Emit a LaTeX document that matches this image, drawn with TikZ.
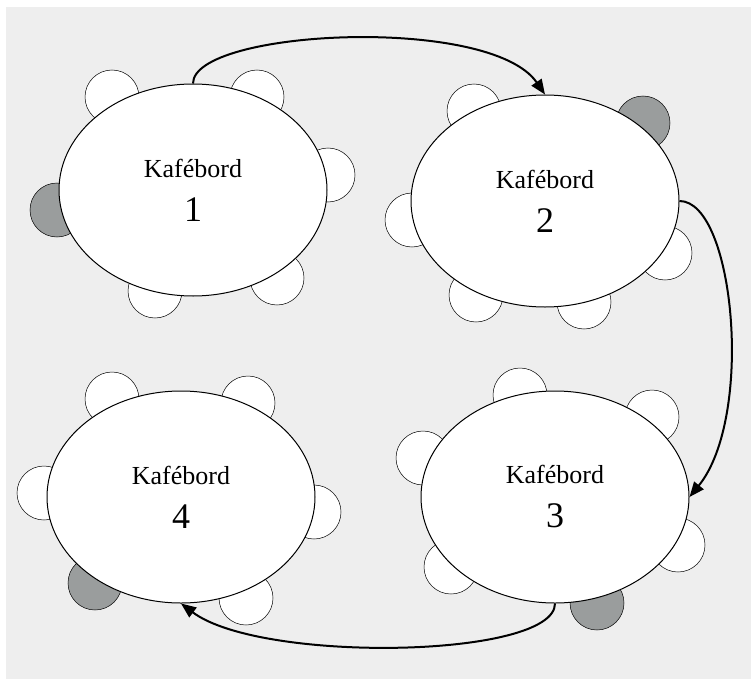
\documentclass[tikz,border=0pt]{standalone}
\usepackage{fontspec}
\setmainfont{Liberation Serif}
\usetikzlibrary{shapes.geometric,arrows.meta}
\definecolor{paneGray}{RGB}{238,238,238}
\definecolor{seatGray}{RGB}{154,157,157}

\begin{document}
\begin{tikzpicture}
[x=1pt,y=-1pt,
  tableDecorate/.style={shape=ellipse,draw,fill=white,line width=1pt,
    minimum width=268pt,minimum height=212pt,inner sep=0pt,align=center,
    font=\fontsize{26}{40}\selectfont},
  seatDecorate/.style={shape=circle,draw,line width=0.5pt,fill=white,
    minimum size=54pt,inner sep=0pt},
  flowDecorate/.style={line width=2pt,-{Triangle[length=15pt,width=12pt]}}]
\useasboundingbox (0,0) rectangle (751,679);
\fill[paneGray] (6,7) rectangle (751,679);
%% chairs
\foreach \nodename/\x/\y/\c in {
  s1a/112/97/white, s1b/257/97/white, s1c/328/175/white,
  s1d/277/278/white, s1e/155/291/white, s1f/57/210/seatGray,
  s2a/474/111/white, s2b/643/123/seatGray, s2c/412/220/white,
  s2d/665/253/white, s2e/476/295/white, s2f/584/302/white,
  s3a/520/395/white, s3b/652/417/white, s3c/423/458/white,
  s3d/678/545/white, s3e/451/567/white, s3f/597/603/seatGray,
  s4a/112/399/white, s4b/248/403/white, s4c/44/493/white,
  s4d/314/512/white, s4e/95/583/seatGray, s4f/246/598/white}
{
  \node (\nodename) at (\x,\y) [seatDecorate,fill=\c] {};
}
%% tables
\foreach \nodename/\x/\y/\num in {
  t1/193/190/1, t2/545/201/2, t3/555/497/3, t4/181/497/4}
{
  \node (\nodename) at (\x,\y) [tableDecorate]
    {Kafébord\\[4pt]{\fontsize{36}{40}\selectfont\num}};
}
%% route
\draw[flowDecorate] (t1.north) .. controls +(0,-54) and +(-55,-80) .. (t2.north);
\draw[flowDecorate] (t2.east) .. controls +(55,0) and +(65,-80) .. (t3.east);
\draw[flowDecorate] (t3.south) .. controls +(0,55) and +(80,60) .. (t4.south);
\end{tikzpicture}
\end{document}
